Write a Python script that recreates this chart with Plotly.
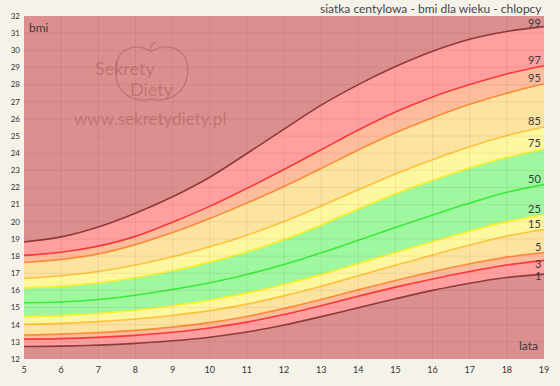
import plotly.graph_objects as go

# ---------------- data ----------------
ages = list(range(5, 20))
y_ticks = list(range(12, 33))

p1 = [12.73, 12.75, 12.81, 12.91, 13.06, 13.27, 13.57, 13.98, 14.47, 14.99, 15.51, 16.00, 16.42, 16.75, 16.95]
p3 = [13.16, 13.19, 13.26, 13.38, 13.56, 13.81, 14.15, 14.59, 15.11, 15.66, 16.19, 16.67, 17.10, 17.48, 17.75]
p5 = [13.40, 13.45, 13.54, 13.67, 13.86, 14.12, 14.48, 14.94, 15.47, 16.03, 16.58, 17.09, 17.55, 17.94, 18.20]
p15 = [14.03, 14.08, 14.18, 14.33, 14.54, 14.82, 15.20, 15.68, 16.24, 16.85, 17.47, 18.07, 18.65, 19.17, 19.55]
p25 = [14.47, 14.53, 14.65, 14.84, 15.10, 15.43, 15.84, 16.34, 16.92, 17.56, 18.21, 18.84, 19.45, 20.01, 20.41]
p50 = [15.28, 15.32, 15.47, 15.72, 16.05, 16.45, 16.93, 17.51, 18.19, 18.93, 19.67, 20.39, 21.09, 21.72, 22.17]
p75 = [16.15, 16.25, 16.45, 16.75, 17.15, 17.65, 18.25, 18.97, 19.82, 20.75, 21.63, 22.42, 23.14, 23.76, 24.25]
p85 = [16.69, 16.85, 17.10, 17.48, 17.96, 18.54, 19.22, 20.02, 20.92, 21.87, 22.79, 23.62, 24.37, 25.03, 25.53]
p95 = [17.63, 17.81, 18.13, 18.67, 19.37, 20.19, 21.09, 22.06, 23.11, 24.19, 25.19, 26.07, 26.85, 27.50, 28.05]
p97 = [18.04, 18.22, 18.58, 19.15, 19.98, 20.90, 21.95, 23.05, 24.20, 25.35, 26.40, 27.28, 28.00, 28.62, 29.10]
p99 = [18.83, 19.12, 19.70, 20.50, 21.46, 22.60, 23.98, 25.40, 26.80, 28.00, 29.05, 29.95, 30.65, 31.10, 31.38]

centile_names = ["1", "3", "5", "15", "25", "50", "75", "85", "95", "97", "99"]
centile_values = [p1, p3, p5, p15, p25, p50, p75, p85, p95, p97, p99]

title_text = "siatka centylowa - bmi dla wieku - chlopcy"

# ---------------- styles ----------------
line_colors = {
    "1": "#8e3b3b", "99": "#8e3b3b",
    "3": "#ff3838", "97": "#ff3838",
    "5": "#ff8a38", "95": "#ff8a38",
    "15": "#ffc23a", "85": "#ffc23a",
    "25": "#ffee2a", "75": "#ffee2a",
    "50": "#3aec3a",
}
# fill colour of the band below each centile line (down to the previous one)
band_colors = {
    "3": "#ff9f9f", "5": "#fdbc9c", "15": "#fce3a0", "25": "#fdf7a0",
    "50": "#9ff79f", "75": "#9ff79f",
    "85": "#fdf7a0", "95": "#fce3a0", "97": "#fdbc9c", "99": "#ff9f9f",
}
label_shift = {"1": -1, "3": -3, "99": 4}

PAGE_BG = "#f5f2ea"
PLOT_BG = "#dc8f8f"
FONT = "Lato"

fig = go.Figure()

for name, vals in zip(centile_names, centile_values):
    kw = {}
    if name in band_colors:
        kw = dict(fill="tonexty", fillcolor=band_colors[name])
    fig.add_trace(go.Scatter(
        x=ages, y=vals, mode="lines",
        line=dict(color=line_colors[name], width=1.6, shape="spline", smoothing=1.0),
        hoverinfo="skip", showlegend=False, **kw))

# grid drawn above the coloured bands (faint)
grid_col = "rgba(110,60,40,0.09)"
for a in ages[1:-1]:
    fig.add_shape(type="line", xref="x", yref="paper", x0=a, x1=a, y0=0, y1=1,
                  line=dict(color=grid_col, width=1), layer="above")
for t in y_ticks[1:-1]:
    fig.add_shape(type="line", xref="paper", yref="y", x0=0, x1=1, y0=t, y1=t,
                  line=dict(color=grid_col, width=1), layer="above")

# centile labels at the right end
for name, vals in zip(centile_names, centile_values):
    fig.add_annotation(x=ages[-1], y=vals[-1], text=name, showarrow=False,
                       xanchor="right", yanchor="middle", xshift=-1,
                       yshift=label_shift.get(name, 6),
                       font=dict(family=FONT, size=11, color="#3a3a3a"))

# axis captions inside the plot
fig.add_annotation(xref="paper", yref="paper", x=0.006, y=0.995, text="bmi",
                   showarrow=False, xanchor="left", yanchor="top",
                   font=dict(family=FONT, size=12, color="#3a3a3a"))
fig.add_annotation(xref="paper", yref="paper", x=0.993, y=0.012, text="lata",
                   showarrow=False, xanchor="right", yanchor="bottom",
                   font=dict(family=FONT, size=12, color="#3a3a3a"))

# ---------------- watermark ----------------
L, R, T, B = 22, 549.5, 14, 361
def px(xp):
    return (xp - L) / (R - L)
def py(yp):
    return (B - yp) / (B - T)

wm = "rgba(150,75,75,0.40)"
apple = [("M", [(151, 50)]),
         ("C", [(165, 40), (190, 45), (188, 72)]),
         ("C", [(186, 95), (165, 102), (151, 98)]),
         ("C", [(137, 102), (116, 95), (115, 72)]),
         ("C", [(114, 45), (137, 40), (151, 50)])]
path = " ".join(cmd + " " + " ".join(f"{px(a):.4f},{py(b):.4f}" for a, b in pts) for cmd, pts in apple) + " Z"
fig.add_shape(type="path", xref="paper", yref="paper", path=path,
              line=dict(color=wm, width=1.3), layer="above")
stem = f"M {px(150):.4f},{py(49):.4f} C {px(150):.4f},{py(45):.4f} {px(152):.4f},{py(42):.4f} {px(156):.4f},{py(40):.4f}"
fig.add_shape(type="path", xref="paper", yref="paper", path=stem,
              line=dict(color=wm, width=1.3), layer="above")
fig.add_annotation(xref="paper", yref="paper", x=px(124), y=py(67), text="Sekrety",
                   showarrow=False, xanchor="center", yanchor="middle",
                   font=dict(family=FONT, size=18, color=wm))
fig.add_annotation(xref="paper", yref="paper", x=px(152), y=py(88), text="Diety",
                   showarrow=False, xanchor="center", yanchor="middle",
                   font=dict(family=FONT, size=18, color=wm))
fig.add_annotation(xref="paper", yref="paper", x=px(150), y=py(118), text="www.sekretydiety.pl",
                   showarrow=False, xanchor="center", yanchor="middle",
                   font=dict(family=FONT, size=17, color=wm))

# ---------------- layout ----------------
fig.update_layout(
    width=560, height=386,
    margin=dict(l=22, r=10.5, t=14, b=25),
    paper_bgcolor=PAGE_BG, plot_bgcolor=PLOT_BG,
    font=dict(family=FONT, color="#333333"),
    showlegend=False,
    xaxis=dict(range=[ages[0], ages[-1]], tickvals=ages, ticktext=[str(a) for a in ages],
               showgrid=False, zeroline=False, showline=False, ticks="",
               ticklabelstandoff=4, ticklabeloverflow="allow",
               tickfont=dict(family=FONT, size=9, color="#333333")),
    yaxis=dict(range=[y_ticks[0], y_ticks[-1]], tickvals=y_ticks, ticktext=[str(t) for t in y_ticks],
               showgrid=False, zeroline=False, showline=False, ticks="",
               ticklabelstandoff=3, ticklabeloverflow="allow",
               tickfont=dict(family=FONT, size=8, color="#333333")),
)
fig.add_annotation(xref="paper", yref="paper", x=1.0, y=1.0, yshift=7.5, text=title_text,
                   showarrow=False, xanchor="right", yanchor="middle",
                   font=dict(family=FONT, size=12, color="#454545"))

fig.write_html("out.html",
               config={"displayModeBar": False},
               post_script="document.body.style.margin='0px';"
                           "document.body.style.background='#f5f2ea';")
